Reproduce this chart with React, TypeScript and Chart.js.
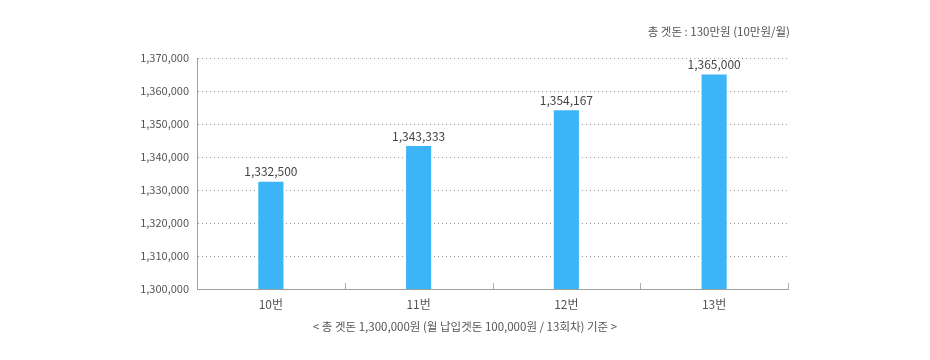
import React, { useEffect, useRef } from "react";
import { Chart, registerables } from "chart.js";

Chart.register(...registerables);

const categories = ["10번", "11번", "12번", "13번"];
const values = [1332500, 1343333, 1354167, 1365000];
const valueLabels = ["1,332,500", "1,343,333", "1,354,167", "1,365,000"];
const yMin = 1300000;
const yMax = 1370000;
const yStep = 10000;
const headerText = "총 겟돈 : 130만원 (10만원/월)";
const footerText = "< 총 겟돈 1,300,000원 (월 납입겟돈 100,000원 / 13회차) 기준 >";

const FONT = "'Noto Sans CJK KR', 'Noto Sans', sans-serif";
const TEXT = "#555555";

export default function App() {
  const ref = useRef<HTMLCanvasElement | null>(null);

  useEffect(() => {
    document.body.style.margin = "0";
    const canvas = ref.current;
    if (!canvas) return;

    const decor = {
      id: "decor",
      afterDatasetsDraw(chart: any) {
        const ctx = chart.ctx;
        const area = chart.chartArea;
        const x = chart.scales.x;
        const step = x.getPixelForValue(1) - x.getPixelForValue(0);
        ctx.save();
        // inner ticks at category boundaries
        ctx.strokeStyle = "#b0b0b0";
        ctx.lineWidth = 1;
        for (let i = 0; i < categories.length; i++) {
          const bx = Math.round(x.getPixelForValue(i) + step / 2) + 0.5;
          ctx.beginPath();
          ctx.moveTo(bx, area.bottom);
          ctx.lineTo(bx, area.bottom - 6);
          ctx.stroke();
        }
        // value labels
        const meta = chart.getDatasetMeta(0);
        ctx.font = "12px " + FONT;
        ctx.fillStyle = "#444444";
        ctx.textAlign = "center";
        ctx.textBaseline = "bottom";
        meta.data.forEach((bar: any, i: number) => {
          ctx.fillText(valueLabels[i], bar.x, bar.y - 4);
        });
        // header & footer
        ctx.font = "11.5px " + FONT;
        ctx.fillStyle = TEXT;
        ctx.textBaseline = "middle";
        ctx.textAlign = "right";
        ctx.fillText(headerText, area.right + 2, 32);
        ctx.textAlign = "center";
        ctx.fillText(footerText, chart.width / 2, 327);
        ctx.restore();
      },
    };

    const chart = new Chart(canvas, {
      type: "bar",
      data: {
        labels: categories,
        datasets: [
          {
            data: values,
            backgroundColor: "#3bb4f8",
            borderWidth: 0,
            barPercentage: 0.17,
            categoryPercentage: 1,
          },
        ],
      },
      options: {
        responsive: false,
        animation: false,
        layout: { padding: { top: 58, right: 142, bottom: 0, left: 0 } },
        plugins: {
          legend: { display: false },
          tooltip: { enabled: false },
          title: { display: false },
        },
        scales: {
          x: {
            grid: { display: false, drawTicks: false },
            border: { display: true, color: "#a0a0a0", width: 1 },
            ticks: {
              color: TEXT,
              font: { family: FONT, size: 12 },
              padding: 8,
            },
            afterFit: (s: any) => {
              s.height = 71;
            },
          },
          y: {
            min: yMin,
            max: yMax,
            grid: {
              color: "#9a9a9a",
              lineWidth: 1,
              drawTicks: false,
            },
            border: { display: true, color: "#a0a0a0", width: 1, dash: [1, 3] },
            ticks: {
              stepSize: yStep,
              color: TEXT,
              font: { family: FONT, size: 11 },
              padding: 8,
              callback: (v: any) => Number(v).toLocaleString("en-US"),
            },
            afterFit: (s: any) => {
              s.width = 197;
            },
          },
        },
      },
      plugins: [decor],
    } as any);

    return () => chart.destroy();
  }, []);

  return (
    <div style={{ position: "absolute", left: 0, top: 0, width: 930, height: 360 }}>
      <canvas ref={ref} width={930} height={360} />
    </div>
  );
}
